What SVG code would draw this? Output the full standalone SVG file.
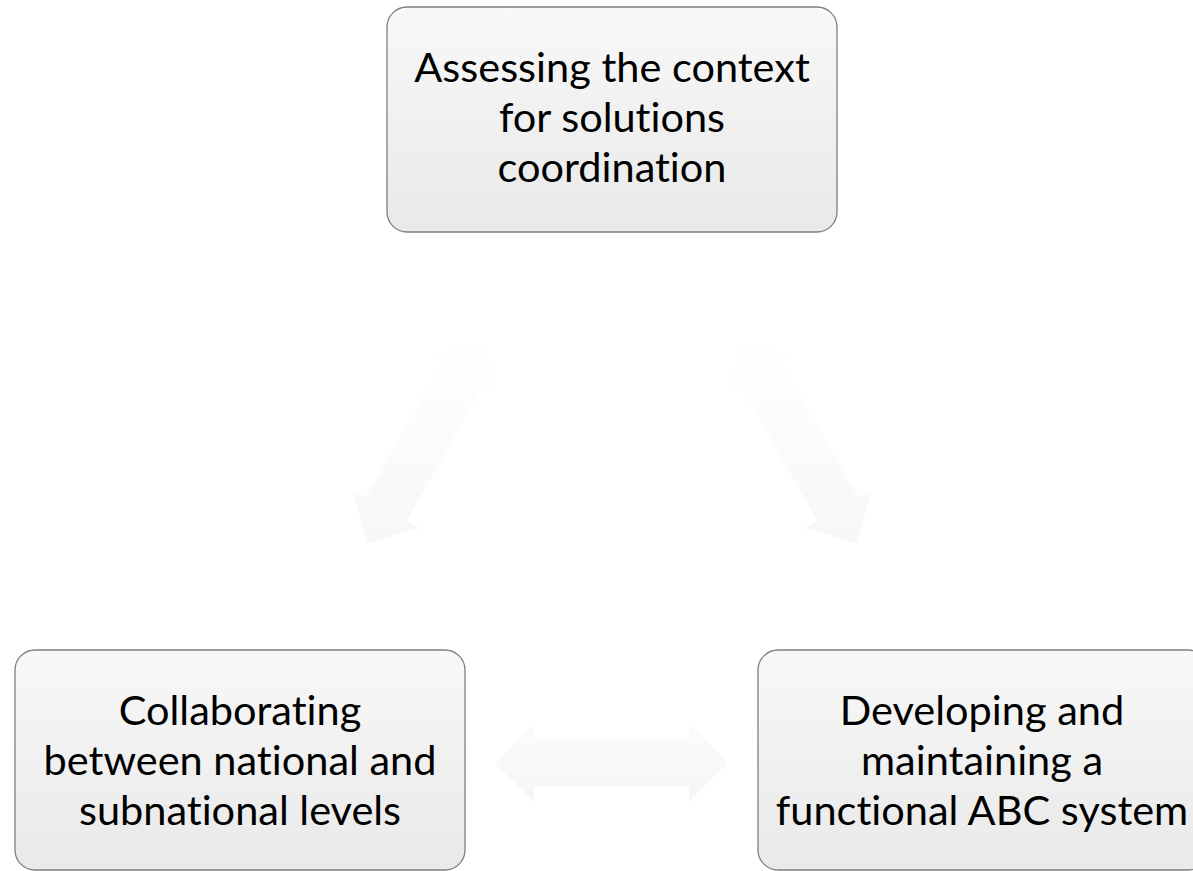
<svg xmlns="http://www.w3.org/2000/svg" width="1193" height="871" viewBox="0 0 1193 871">
  <defs>
    <linearGradient id="boxFill" x1="0" y1="0" x2="0" y2="1">
      <stop offset="0" stop-color="#f8f8f8"/>
      <stop offset="1" stop-color="#e9e9e9"/>
    </linearGradient>
    <linearGradient id="diagFill" gradientUnits="userSpaceOnUse" x1="0" y1="338" x2="0" y2="543">
      <stop offset="0" stop-color="#ffffff"/>
      <stop offset="1" stop-color="#f7f7f7"/>
    </linearGradient>
    <linearGradient id="horizFill" x1="0" y1="0" x2="0" y2="1">
      <stop offset="0" stop-color="#fbfbfb"/>
      <stop offset="1" stop-color="#f6f6f6"/>
    </linearGradient>
  </defs>
  <style>
    .box { fill: url(#boxFill); stroke: #7f7f7f; stroke-width: 1.3; }
    .label { font-family: Lato, "Open Sans", "Liberation Sans", sans-serif; font-size: 41.5px; fill: #000000; text-anchor: middle; font-variant-ligatures: none; }
    .diag { fill: url(#diagFill); stroke: none; }
    .horiz { fill: url(#horizFill); stroke: none; }
  </style>

  <rect width="1193" height="871" fill="#ffffff"/>

  <!-- two-way connectors between the three steps -->
  <g id="connectors">
    <polygon class="diag" points="367,543 352.3,489.9 365.8,497.5 443.1,360.8 429.6,353.2 482.7,338.5 497.5,391.6 484,384 406.7,520.6 420.2,528.3"/>
    <polygon class="diag" points="857,543 871.7,489.9 858.2,497.5 780.9,360.8 794.4,353.2 741.3,338.5 726.5,391.6 740,384 817.3,520.6 803.8,528.3"/>
    <polygon class="horiz" points="495,763 534,724 534,739.5 689,739.5 689,724 728,763 689,802 689,786.5 534,786.5 534,802"/>
  </g>

  <g id="node-assessing">
    <rect class="box" x="387" y="7" width="450" height="225" rx="20" ry="20"/>
    <text class="label" x="612" y="82">Assessing the context</text>
    <text class="label" x="612" y="132">for solutions</text>
    <text class="label" x="612" y="182">coordination</text>
  </g>

  <g id="node-collaborating">
    <rect class="box" x="15" y="650" width="450" height="220" rx="20" ry="20"/>
    <text class="label" x="240" y="725">Collaborating</text>
    <text class="label" x="240" y="775">between national and</text>
    <text class="label" x="240" y="825">subnational levels</text>
  </g>

  <g id="node-developing">
    <rect class="box" x="758" y="650" width="450" height="220" rx="20" ry="20"/>
    <text class="label" x="982" y="725">Developing and</text>
    <text class="label" x="982" y="775">maintaining a</text>
    <text class="label" x="982" y="825">functional ABC system</text>
  </g>
</svg>
